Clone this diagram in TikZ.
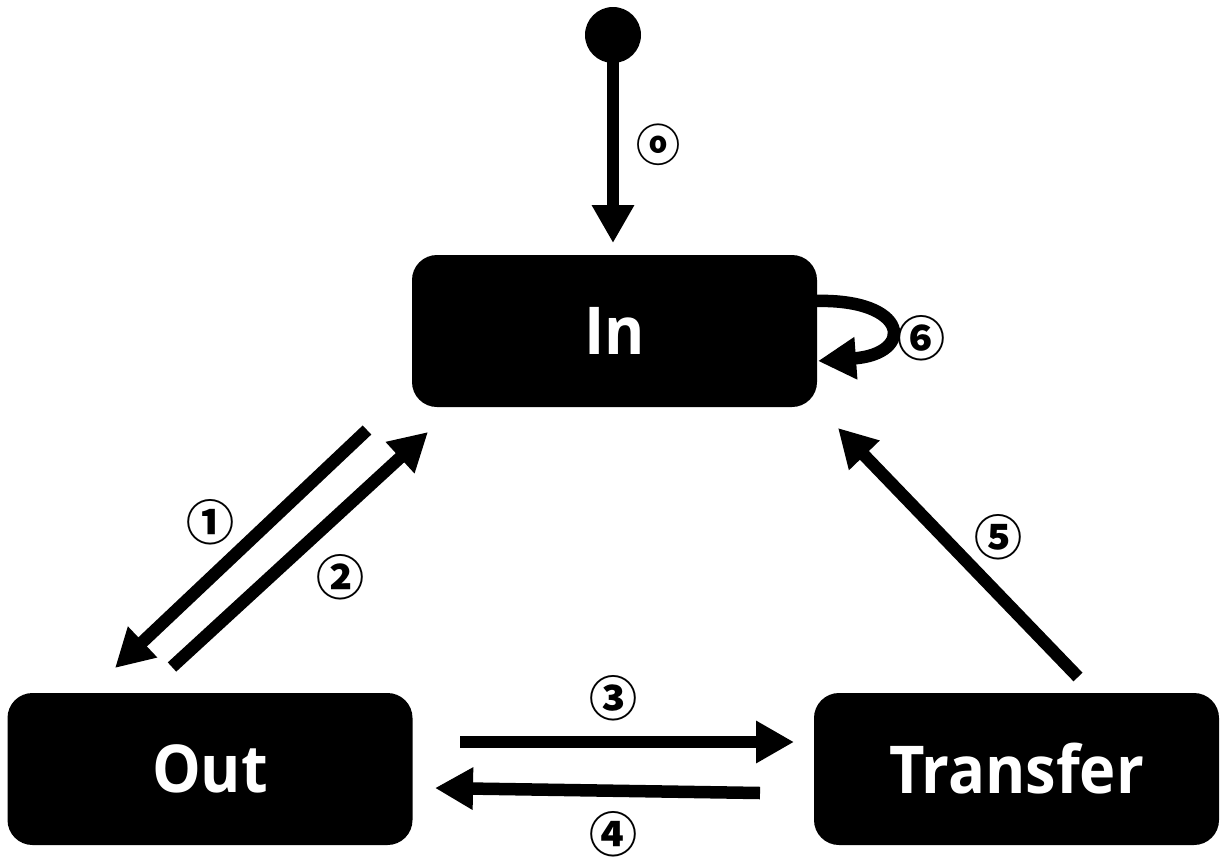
\documentclass[tikz,border=0pt]{standalone}
\usepackage{fontspec}
\setmainfont{Open Sans}
\newfontfamily\circfont{Noto Sans CJK KR}
\newfontfamily\statefont[FakeStretch=0.93]{Open Sans}
\usetikzlibrary{arrows.meta}
\begin{document}
\begin{tikzpicture}[x=1pt,y=-1pt,
  state/.style={fill=black, rounded corners=25pt, minimum width=405pt, minimum height=152pt,
    text=white, font=\statefont\fontsize{66}{70}\selectfont\bfseries, inner sep=0pt},
  conn/.style={line width=12.5pt, -{Triangle[length=38pt,width=40pt]}},
  lab/.style={font=\circfont\fontsize{48}{52}\selectfont\bfseries, inner sep=0pt}]
\useasboundingbox (0,0) rectangle (1226,857);
% states
\node[state] (in) at (614.5,331) {In};
\node[state] (out) at (210,769) {Out};
\node[state] (tr) at (1016.5,769) {Transfer};
% initial
\node[circle, fill=black, minimum size=56pt, inner sep=0pt] (init) at (613,35) {};
\coordinate (i0) at (613,243);
\draw[conn] (init.center) -- (i0);
\node[lab, font=\circfont\fontsize{44}{48}\selectfont\bfseries] (l0) at (658,145) {ⓞ};
% 1
\coordinate (a1s) at (367,430);
\coordinate (a1e) at (115,668);
\draw[conn] (a1s) -- (a1e);
\node[lab] (l1) at (210,522) {①};
% 2
\coordinate (a2s) at (172,667);
\coordinate (a2e) at (428,432);
\draw[conn] (a2s) -- (a2e);
\node[lab] (l2) at (340,577) {②};
% 3
\coordinate (a3s) at (460,742);
\coordinate (a3e) at (794,742);
\draw[conn] (a3s) -- (a3e);
\node[lab] (l3) at (613,698) {③};
% 4
\coordinate (a4s) at (760,793);
\coordinate (a4e) at (435,788);
\draw[conn] (a4s) -- (a4e);
\node[lab] (l4) at (613,834) {④};
% 5
\coordinate (a5s) at (1078,677);
\coordinate (a5e) at (838,428);
\draw[conn] (a5s) -- (a5e);
\node[lab] (l5) at (998,537) {⑤};
% 6 self loop
\coordinate (a6s) at (814,301);
\coordinate (a6e) at (818,361);
\draw[conn] (a6s) .. controls (910,298) and (915,354) .. (a6e);
\node[lab] (l6) at (921,338) {⑥};
\end{tikzpicture}
\end{document}
